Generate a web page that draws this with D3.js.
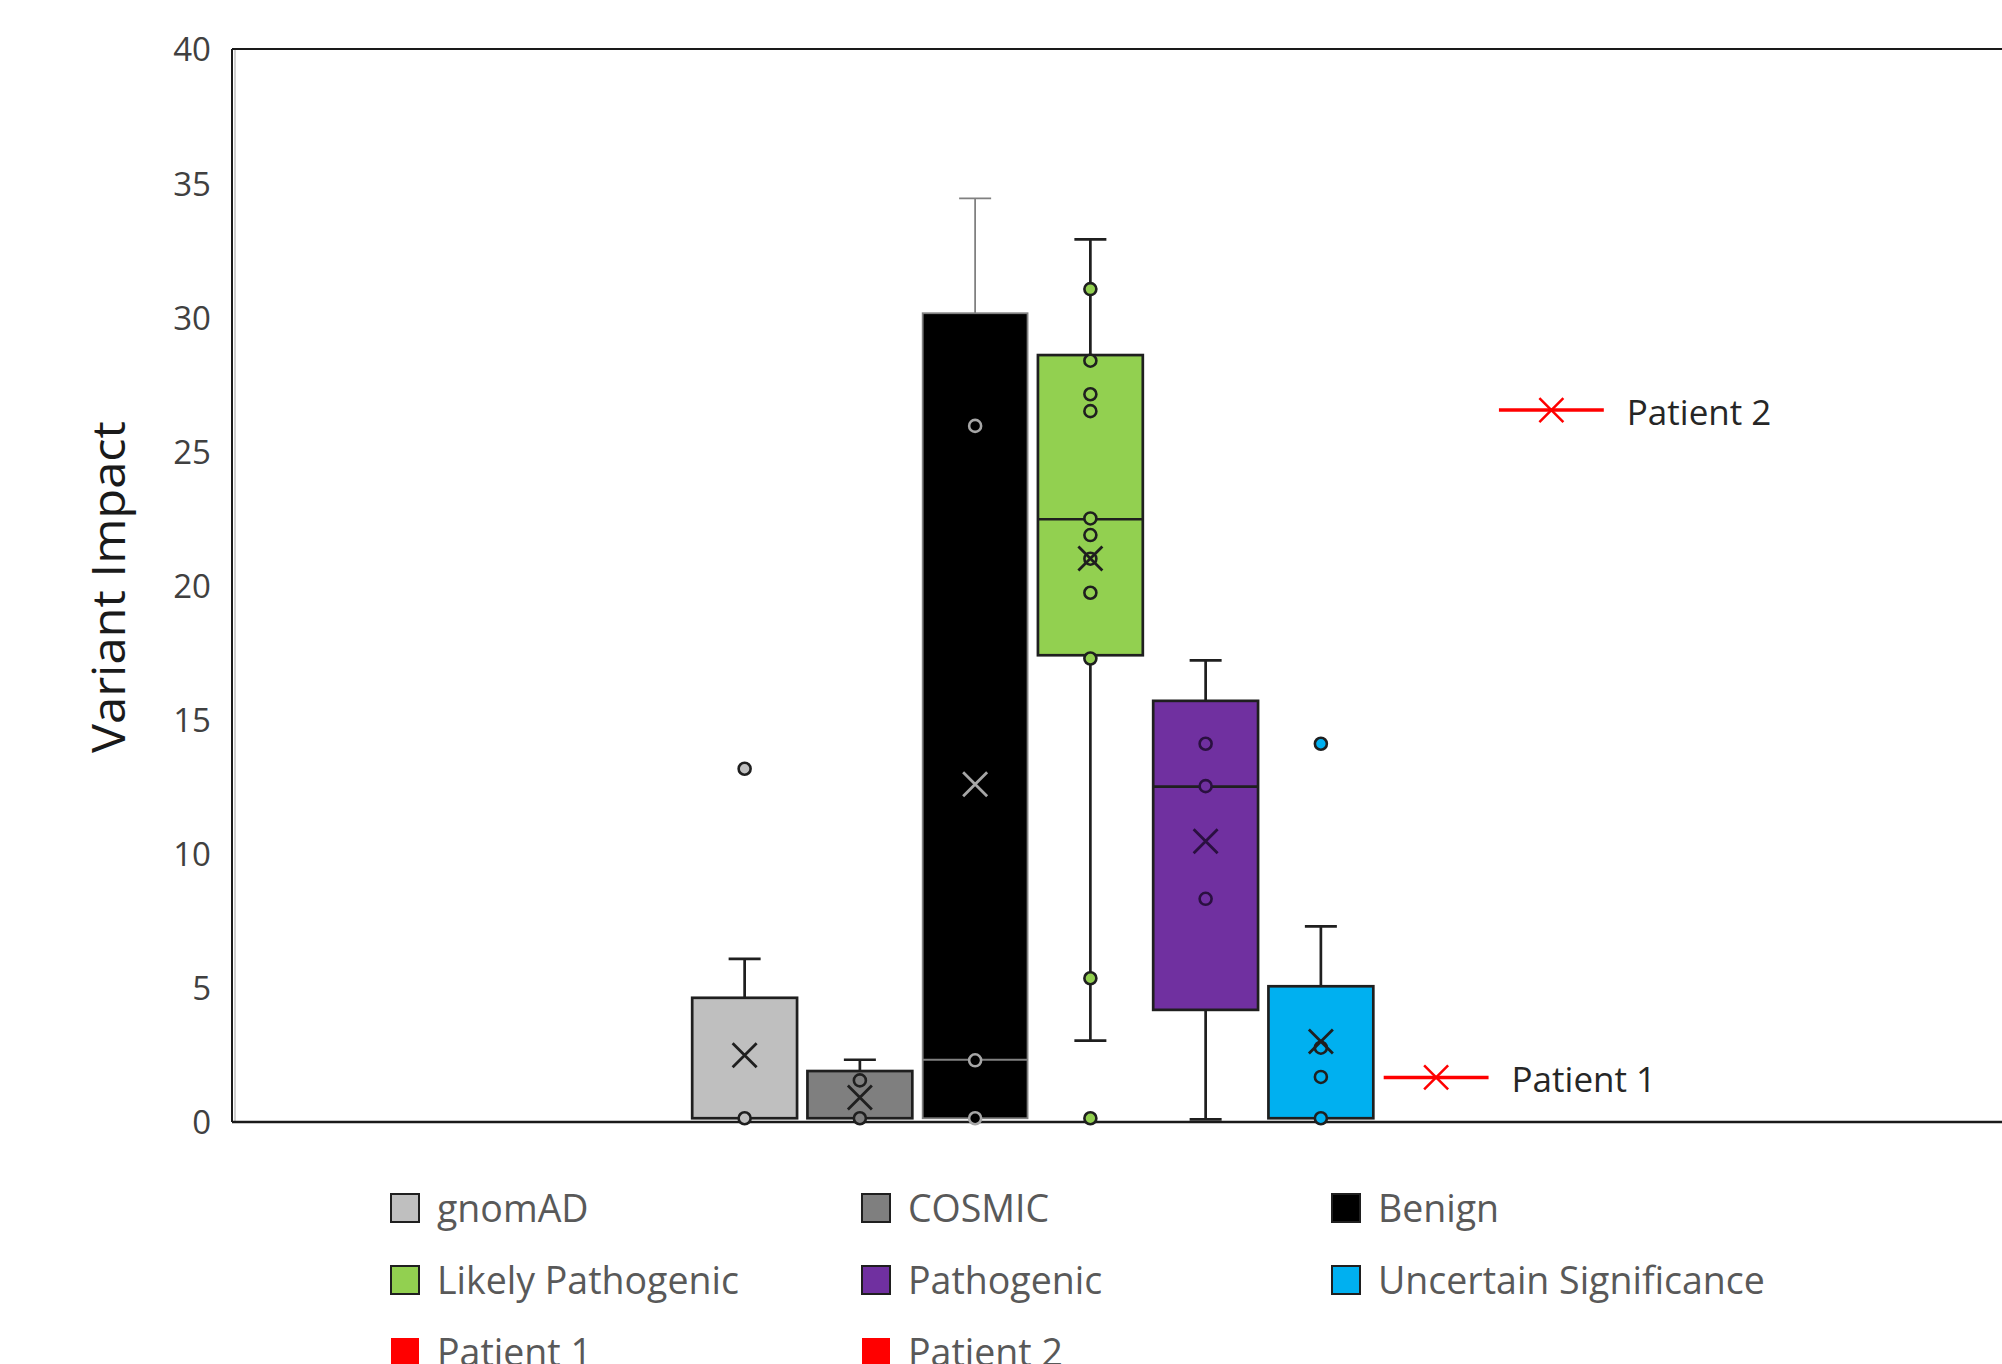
<!DOCTYPE html>
<html><head><meta charset="utf-8">
<script src="https://cdn.jsdelivr.net/npm/d3@7"></script>
<style>html,body{margin:0;padding:0;background:#fff;}svg{display:block;font-family:"Open Sans",sans-serif;}</style>
</head><body>
<svg id="chart" width="2002" height="1364"></svg>
<script>
// ---- data ----
const categories = ["gnomAD","COSMIC","Benign","Likely Pathogenic","Pathogenic","Uncertain Significance"];
const q1Values     = [0.14, 0.14, 0.14, 17.4, 4.18, 0.14];
const medianValues = [0.14, 0.14, 2.32, 22.47, 12.5, 0.14];
const q3Values     = [4.63, 1.9, 30.15, 28.59, 15.7, 5.06];
const whiskerLow   = [0.14, 0.14, 0.14, 3.03, 0.1, 0.14];
const whiskerHigh  = [6.08, 2.32, 34.43, 32.9, 17.21, 7.29];
const meanValues   = [2.49, 0.91, 12.59, 21.01, 10.47, 3.0];
const pointValues  = [
  [13.17, 0.14],
  [1.55, 0.14],
  [25.95, 2.3, 0.14],
  [31.05, 28.38, 27.13, 26.5, 22.5, 21.88, 21.0, 19.73, 17.28, 5.36, 0.14],
  [14.1, 12.52, 8.32],
  [14.1, 2.77, 1.68, 0.14]
];
const patients = ["Patient 1","Patient 2"];
const patientValues = [1.66, 26.54];
const yTicks = [0,5,10,15,20,25,30,35,40];
const yTitle = "Variant Impact";

// ---- styles ----
const fillColors   = ["#bfbfbf","#7f7f7f","#000000","#92d050","#7030a0","#00b0f0"];
const strokeColors = ["#1f1f1f","#1f1f1f","#808080","#1f1f1f","#1f1f1f","#1f1f1f"];
const markColors   = ["#1f1f1f","#1f1f1f","#a6a6a6","#1f1f1f","#2a1040","#1f1f1f"];
const patientColor = "#ff0000";

const svg = d3.select("#chart");
svg.append("rect").attr("width",2002).attr("height",1364).attr("fill","#fff");

const plotLeft = 232, plotTop = 49, plotBottom = 1122, plotRight = 2010;
const y = d3.scaleLinear().domain([0,40]).range([plotBottom, plotTop]);
const x = d3.scaleBand().domain(categories.concat(patients)).range([687, 1609]).paddingInner(0.09).paddingOuter(0.045);
const bw = x.bandwidth();
const cx = d => x(d) + bw/2;

// frame
svg.append("line").attr("x1",plotLeft).attr("x2",plotRight).attr("y1",plotTop).attr("y2",plotTop).attr("stroke","#1a1a1a").attr("stroke-width",2);
svg.append("line").attr("x1",plotLeft).attr("x2",plotLeft).attr("y1",plotTop).attr("y2",plotBottom).attr("stroke","#1a1a1a").attr("stroke-width",2);
svg.append("line").attr("x1",plotLeft+3).attr("x2",plotLeft+3).attr("y1",plotTop+1).attr("y2",plotBottom).attr("stroke","#d0d0d0").attr("stroke-width",2);
svg.append("line").attr("x1",plotLeft).attr("x2",plotRight).attr("y1",plotBottom).attr("y2",plotBottom).attr("stroke","#1a1a1a").attr("stroke-width",2.5);

// y axis labels
const yAxis = d3.axisLeft(y).tickValues(yTicks).tickSize(0).tickPadding(0);
const gy = svg.append("g").attr("transform",`translate(211,0)`).call(yAxis);
gy.select(".domain").remove();
gy.selectAll("text").attr("font-size",33).attr("fill","#404040").attr("font-family","Open Sans").attr("dy","0.36em");

svg.append("text").attr("transform",`translate(125,587) rotate(-90)`).attr("text-anchor","middle")
  .attr("font-size",46).attr("fill","#1a1a1a").attr("textLength",332).attr("lengthAdjust","spacingAndGlyphs").text(yTitle);

// boxes
categories.forEach((c,i) => {
  const g = svg.append("g");
  const xc = cx(c);
  const sc = strokeColors[i];
  const sw = i===2 ? 1.8 : 2.7;
  const cap = 16;
  // whiskers
  g.append("line").attr("x1",xc).attr("x2",xc).attr("y1",y(q3Values[i])).attr("y2",y(whiskerHigh[i])).attr("stroke",sc).attr("stroke-width",sw);
  g.append("line").attr("x1",xc-cap).attr("x2",xc+cap).attr("y1",y(whiskerHigh[i])).attr("y2",y(whiskerHigh[i])).attr("stroke",sc).attr("stroke-width",sw);
  if (whiskerLow[i] < q1Values[i]) {
    g.append("line").attr("x1",xc).attr("x2",xc).attr("y1",y(q1Values[i])).attr("y2",y(whiskerLow[i])).attr("stroke",sc).attr("stroke-width",sw);
    g.append("line").attr("x1",xc-cap).attr("x2",xc+cap).attr("y1",y(whiskerLow[i])).attr("y2",y(whiskerLow[i])).attr("stroke",sc).attr("stroke-width",sw);
  }
  g.append("rect").attr("x",x(c)).attr("width",bw).attr("y",y(q3Values[i])).attr("height",y(q1Values[i])-y(q3Values[i]))
    .attr("fill",fillColors[i]).attr("stroke",sc).attr("stroke-width",sw);
  if (medianValues[i] > q1Values[i]) {
    g.append("line").attr("x1",x(c)).attr("x2",x(c)+bw).attr("y1",y(medianValues[i])).attr("y2",y(medianValues[i])).attr("stroke",sc).attr("stroke-width",sw);
  }
  // points
  pointValues[i].forEach(v => {
    g.append("circle").attr("cx",xc).attr("cy",y(v)).attr("r",6)
      .attr("fill",fillColors[i]).attr("stroke",markColors[i]).attr("stroke-width",2.6);
  });
  // mean X
  const m = y(meanValues[i]), s = 12;
  g.append("path").attr("d",`M${xc-s},${m-s}L${xc+s},${m+s}M${xc-s},${m+s}L${xc+s},${m-s}`)
    .attr("stroke",markColors[i]).attr("stroke-width",2.8).attr("fill","none");
});

// patients
patients.forEach((p,i) => {
  const xc = cx(p), yy = y(patientValues[i]);
  svg.append("line").attr("x1",x(p)).attr("x2",x(p)+bw).attr("y1",yy).attr("y2",yy).attr("stroke",patientColor).attr("stroke-width",3.5);
  const s = 12;
  svg.append("path").attr("d",`M${xc-s},${yy-s}L${xc+s},${yy+s}M${xc-s},${yy+s}L${xc+s},${yy-s}`)
    .attr("stroke",patientColor).attr("stroke-width",2.5).attr("fill","none");
  svg.append("text").attr("x",x(p)+bw+23).attr("y",yy).attr("dy","0.42em").attr("font-size",35).attr("fill","#262626").text(p);
});

// legend
const legendItems = categories.map((c,i)=>({name:c, fill:fillColors[i], stroke:"#1f1f1f"}))
  .concat(patients.map(p=>({name:p, fill:patientColor, stroke:null})));
const colX = [391, 862, 1332], rowY = [1208, 1280, 1352];
legendItems.forEach((d,i) => {
  const cxl = colX[i%3], cyl = rowY[Math.floor(i/3)];
  svg.append("rect").attr("x",cxl).attr("y",cyl-14).attr("width",28).attr("height",28)
    .attr("fill",d.fill).attr("stroke",d.stroke||"none").attr("stroke-width",2);
  svg.append("text").attr("x",cxl+46).attr("y",cyl).attr("dy","0.38em").attr("font-size",37.5).attr("fill","#595959").text(d.name);
});
</script>
</body></html>
